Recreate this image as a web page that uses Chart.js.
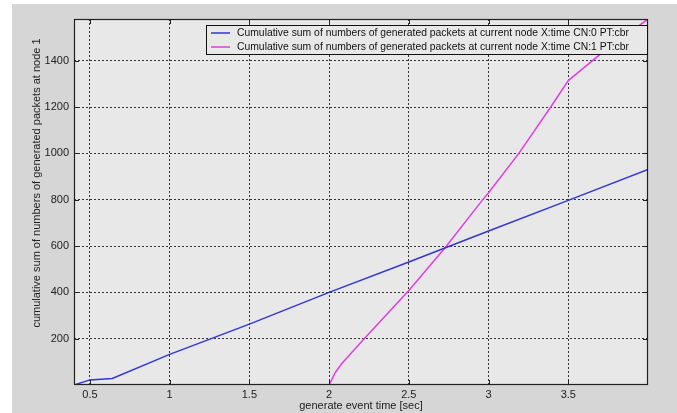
<!DOCTYPE html>
<html lang="en">
<head>
    <meta charset="UTF-8">
    <title>Cumulative generated packets</title>
    <script src="https://cdn.jsdelivr.net/npm/chart.js"></script>
    <style>
        html, body {
            margin: 0;
            padding: 0;
            background: #ffffff;
        }

        #wrap {
            width: 677px;
            height: 413px;
        }
    </style>
</head>
<body>
    <div id="wrap"><canvas id="packetChart" width="677" height="413"></canvas></div>

    <script>
    // data
    const seriesLabels = [
        'Cumulative sum of numbers of generated packets at current node X:time CN:0 PT:cbr',
        'Cumulative sum of numbers of generated packets at current node X:time CN:1 PT:cbr'
    ];
    const cn0Time = [0.4, 0.5, 0.64, 1.0, 1.5, 2.0, 2.5, 3.0, 3.5, 4.0];
    const cn0Sum = [0, 22, 28, 132, 263, 400, 531, 665, 797, 930];
    const cn1Time = [2.0, 2.04, 2.08, 2.22, 2.5, 2.73, 2.96, 3.0, 3.19, 3.39, 3.5, 3.69, 4.0];
    const cn1Sum = [0, 55, 93, 200, 408, 595, 797, 830, 1000, 1200, 1314, 1422, 1580];
    const xTickValues = [0.5, 1, 1.5, 2, 2.5, 3, 3.5];
    const yTickValues = [200, 400, 600, 800, 1000, 1200, 1400];
    const xTitle = 'generate event time [sec]';
    const yTitle = 'cumulative sum of numbers of generated packets at node 1';

    const FONT = 'Arial, "Liberation Sans", sans-serif';
    const PLOT_BG = '#e8e8e8';
    const FIG_BG = '#d6d6d6';
    const colors = ['#3535d6', '#e03ee0'];

    function toPoints(xs, ys) {
        return xs.map((x, i) => ({ x: x, y: ys[i] }));
    }

    // figure background, plot frame, inner ticks, legend, y title
    const matlabLook = {
        id: 'matlabLook',
        beforeDraw(chart) {
            const ctx = chart.ctx;
            const a = chart.chartArea;
            ctx.save();
            ctx.fillStyle = '#ffffff';
            ctx.fillRect(0, 0, chart.width, chart.height);
            ctx.fillStyle = FIG_BG;
            ctx.fillRect(12, 4, chart.width - 12, chart.height - 4);
            ctx.fillStyle = PLOT_BG;
            ctx.fillRect(a.left, a.top, a.right - a.left, a.bottom - a.top);
            ctx.restore();
        },
        afterDatasetsDraw(chart) {
            const ctx = chart.ctx;
            const a = chart.chartArea;
            const xs = chart.scales.x;
            const ys = chart.scales.y;
            ctx.save();
            ctx.strokeStyle = '#222';
            ctx.lineWidth = 1;
            ctx.beginPath();
            xTickValues.forEach(v => {
                const px = Math.round(xs.getPixelForValue(v)) + 0.5;
                ctx.moveTo(px, a.bottom); ctx.lineTo(px, a.bottom - 5);
                ctx.moveTo(px, a.top); ctx.lineTo(px, a.top + 5);
            });
            yTickValues.forEach(v => {
                const py = Math.round(ys.getPixelForValue(v)) + 0.5;
                ctx.moveTo(a.left, py); ctx.lineTo(a.left + 5, py);
                ctx.moveTo(a.right, py); ctx.lineTo(a.right - 5, py);
            });
            ctx.stroke();
            ctx.lineWidth = 1.2;
            ctx.strokeRect(a.left + 0.5, a.top + 0.5, a.right - a.left - 1, a.bottom - a.top - 1);

            // legend box in the top right corner
            const lx = 206, ly = 25, lw = a.right - 1 - lx, lh = 29;
            ctx.fillStyle = PLOT_BG;
            ctx.fillRect(lx, ly, lw, lh);
            ctx.lineWidth = 1;
            ctx.strokeStyle = '#111';
            ctx.strokeRect(lx + 0.5, ly + 0.5, lw, lh);
            ctx.font = '11px ' + FONT;
            ctx.textBaseline = 'middle';
            ctx.textAlign = 'left';
            chart.data.datasets.forEach((ds, i) => {
                const y = ly + 8 + i * 14;
                ctx.strokeStyle = ds.borderColor;
                ctx.lineWidth = 1.5;
                ctx.beginPath();
                ctx.moveTo(211, y);
                ctx.lineTo(230, y);
                ctx.stroke();
                ctx.fillStyle = '#111';
                ctx.fillText(ds.label, 237, y, 392);
            });

            // y axis title
            ctx.translate(37, 183);
            ctx.rotate(-Math.PI / 2);
            ctx.textAlign = 'center';
            ctx.fillStyle = '#222';
            ctx.fillText(yTitle, 0, 0);
            ctx.restore();
        }
    };

    const data = {
        datasets: [{
            label: seriesLabels[0],
            data: toPoints(cn0Time, cn0Sum),
            borderColor: colors[0],
            borderWidth: 1.5,
            pointRadius: 0,
            tension: 0
        }, {
            label: seriesLabels[1],
            data: toPoints(cn1Time, cn1Sum),
            borderColor: colors[1],
            borderWidth: 1.5,
            pointRadius: 0,
            tension: 0
        }]
    };

    const config = {
        type: 'line',
        data: data,
        plugins: [matlabLook],
        options: {
            responsive: false,
            animation: false,
            events: [],
            layout: {
                padding: { left: 0, top: 19, right: 29, bottom: 0 }
            },
            plugins: {
                legend: { display: false },
                tooltip: { enabled: false }
            },
            scales: {
                x: {
                    type: 'linear',
                    min: 0.4,
                    max: 4.0,
                    afterBuildTicks: scale => { scale.ticks = xTickValues.map(v => ({ value: v })); },
                    afterFit: scale => { scale.height = 28; },
                    grid: { color: '#333', lineWidth: 1, drawTicks: false },
                    border: { display: false, dash: [2, 2] },
                    ticks: {
                        padding: 3,
                        color: '#222',
                        font: { family: FONT, size: 11 },
                        maxRotation: 0,
                        callback: v => String(v)
                    },
                    title: {
                        display: true,
                        text: xTitle,
                        color: '#222',
                        padding: { top: 0, bottom: 0 },
                        font: { family: FONT, size: 11 }
                    }
                },
                y: {
                    min: 0,
                    max: 1580,
                    afterBuildTicks: scale => { scale.ticks = yTickValues.map(v => ({ value: v })); },
                    afterFit: scale => { scale.width = 74; },
                    grid: { color: '#333', lineWidth: 1, drawTicks: false },
                    border: { display: false, dash: [2, 2] },
                    ticks: {
                        padding: 5,
                        color: '#222',
                        font: { family: FONT, size: 11 },
                        callback: v => String(v)
                    }
                }
            }
        }
    };

    const ctx = document.getElementById('packetChart').getContext('2d');
    new Chart(ctx, config);
    </script>
</body>
</html>
